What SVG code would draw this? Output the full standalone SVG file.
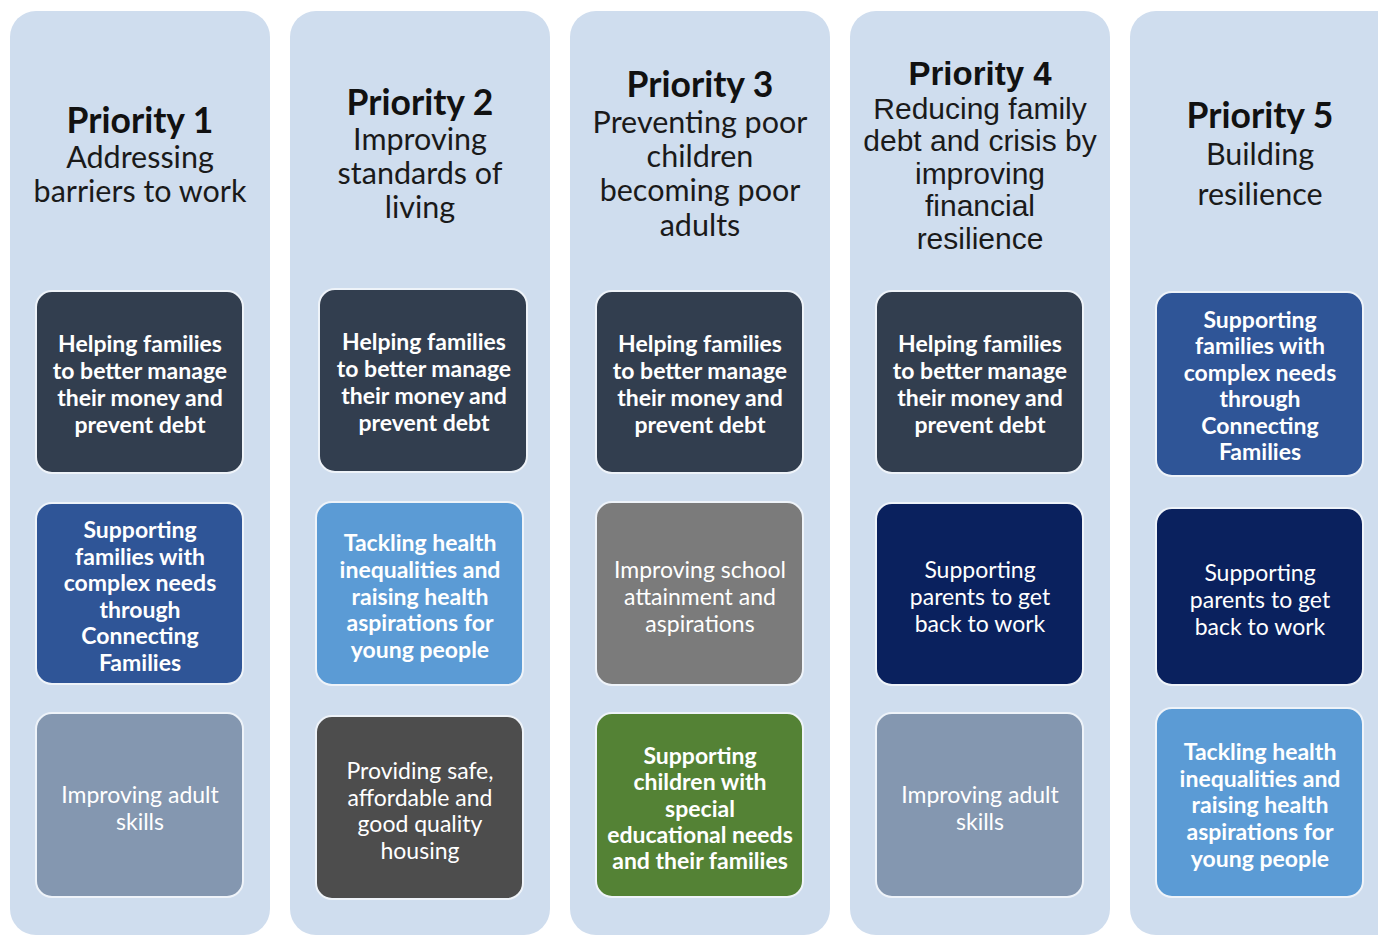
<svg xmlns="http://www.w3.org/2000/svg" width="1378" height="935" viewBox="0 0 1378 935">
<style>
.col{fill:#cfddee}
.box{stroke:#eef3f9;stroke-width:2}
.h{font-family:Lato,"Liberation Sans",sans-serif;font-weight:bold;font-size:35.5px;fill:#111;text-anchor:middle}
.s{font-family:Lato,"Liberation Sans",sans-serif;font-size:30.5px;fill:#1a1a1a;text-anchor:middle}
.h4{font-family:"Liberation Sans",Arial,sans-serif;font-weight:bold;font-size:33px;fill:#111;text-anchor:middle}
.s4{font-family:"Liberation Sans",Arial,sans-serif;font-size:30px;fill:#1a1a1a;text-anchor:middle}
.b{font-family:Lato,"Liberation Sans",sans-serif;font-weight:bold;font-size:23px;fill:#fff;text-anchor:middle}
.r{font-family:Lato,"Liberation Sans",sans-serif;font-size:23px;fill:#fff;text-anchor:middle}
.c1{fill:#323e4f}.c2{fill:#2f5597}.c3{fill:#8497b0}.c4{fill:#5b9bd5}.c5{fill:#4d4d4d}.c6{fill:#7b7b7b}.c7{fill:#548235}.c8{fill:#0a215e}
</style>
<rect width="1378" height="935" fill="#fff"/>
<g id="priority1">
<rect class="col" x="10" y="11" width="260" height="924" rx="26"/>
<text class="h" x="140" y="133">Priority 1</text>
<text class="s" x="140" y="168">Addressing</text>
<text class="s" x="140" y="202">barriers to work</text>
</g>
<g id="priority2">
<rect class="col" x="290" y="11" width="260" height="924" rx="26"/>
<text class="h" x="420" y="115">Priority 2</text>
<text class="s" x="420" y="150">Improving</text>
<text class="s" x="420" y="184">standards of</text>
<text class="s" x="420" y="218">living</text>
</g>
<g id="priority3">
<rect class="col" x="570" y="11" width="260" height="924" rx="26"/>
<text class="h" x="700" y="97">Priority 3</text>
<text class="s" x="700" y="133">Preventing poor</text>
<text class="s" x="700" y="167">children</text>
<text class="s" x="700" y="201">becoming poor</text>
<text class="s" x="700" y="236">adults</text>
</g>
<g id="priority4">
<rect class="col" x="850" y="11" width="260" height="924" rx="26"/>
<text class="h4" x="980" y="85">Priority 4</text>
<text class="s4" x="980" y="119">Reducing family</text>
<text class="s4" x="980" y="151">debt and crisis by</text>
<text class="s4" x="980" y="184">improving</text>
<text class="s4" x="980" y="216">financial</text>
<text class="s4" x="980" y="249">resilience</text>
</g>
<g id="priority5">
<rect class="col" x="1130" y="11" width="280" height="924" rx="26"/>
<text class="h" x="1260" y="128">Priority 5</text>
<text class="s" x="1260" y="165">Building</text>
<text class="s" x="1260" y="205">resilience</text>
</g>

<g id="p1-money">
<rect class="box c1" x="36" y="291" width="207" height="182" rx="16"/>
<text class="b" x="140" y="352">Helping families</text>
<text class="b" x="140" y="379">to better manage</text>
<text class="b" x="140" y="406">their money and</text>
<text class="b" x="140" y="433">prevent debt</text>
</g>
<g id="p1-complex">
<rect class="box c2" x="36" y="503" width="207" height="181" rx="16"/>
<text class="b" x="140" y="538">Supporting</text>
<text class="b" x="140" y="564.5">families with</text>
<text class="b" x="140" y="591">complex needs</text>
<text class="b" x="140" y="617.5">through</text>
<text class="b" x="140" y="644">Connecting</text>
<text class="b" x="140" y="670.5">Families</text>
</g>
<g id="p1-skills">
<rect class="box c3" x="36" y="713" width="207" height="184" rx="16"/>
<text class="r" x="140" y="803">Improving adult</text>
<text class="r" x="140" y="829.5">skills</text>
</g>

<g id="p2-money">
<rect class="box c1" x="319" y="289" width="208" height="183" rx="16"/>
<text class="b" x="424" y="350">Helping families</text>
<text class="b" x="424" y="377">to better manage</text>
<text class="b" x="424" y="404">their money and</text>
<text class="b" x="424" y="431">prevent debt</text>
</g>
<g id="p2-health">
<rect class="box c4" x="316" y="502" width="207" height="183" rx="16"/>
<text class="b" x="420" y="551">Tackling health</text>
<text class="b" x="420" y="577.8">inequalities and</text>
<text class="b" x="420" y="604.6">raising health</text>
<text class="b" x="420" y="631.4">aspirations for</text>
<text class="b" x="420" y="658.2">young people</text>
</g>
<g id="p2-housing">
<rect class="box c5" x="316" y="716" width="207" height="183" rx="16"/>
<text class="r" x="420" y="779">Providing safe,</text>
<text class="r" x="420" y="805.7">affordable and</text>
<text class="r" x="420" y="832.4">good quality</text>
<text class="r" x="420" y="859">housing</text>
</g>

<g id="p3-money">
<rect class="box c1" x="596" y="291" width="207" height="182" rx="16"/>
<text class="b" x="700" y="352">Helping families</text>
<text class="b" x="700" y="379">to better manage</text>
<text class="b" x="700" y="406">their money and</text>
<text class="b" x="700" y="433">prevent debt</text>
</g>
<g id="p3-school">
<rect class="box c6" x="596" y="502" width="207" height="183" rx="16"/>
<text class="r" x="700" y="578">Improving school</text>
<text class="r" x="700" y="605">attainment and</text>
<text class="r" x="700" y="632">aspirations</text>
</g>
<g id="p3-send">
<rect class="box c7" x="596" y="713" width="207" height="184" rx="16"/>
<text class="b" x="700" y="764">Supporting</text>
<text class="b" x="700" y="790.3">children  with</text>
<text class="b" x="700" y="816.6">special</text>
<text class="b" x="700" y="842.9">educational needs</text>
<text class="b" x="700" y="869.2">and their families</text>
</g>

<g id="p4-money">
<rect class="box c1" x="876" y="291" width="207" height="182" rx="16"/>
<text class="b" x="980" y="352">Helping families</text>
<text class="b" x="980" y="379">to better manage</text>
<text class="b" x="980" y="406">their money and</text>
<text class="b" x="980" y="433">prevent debt</text>
</g>
<g id="p4-parents">
<rect class="box c8" x="876" y="503" width="207" height="182" rx="16"/>
<text class="r" x="980" y="578">Supporting</text>
<text class="r" x="980" y="605">parents to get</text>
<text class="r" x="980" y="632">back to work</text>
</g>
<g id="p4-skills">
<rect class="box c3" x="876" y="713" width="207" height="184" rx="16"/>
<text class="r" x="980" y="803">Improving adult</text>
<text class="r" x="980" y="829.5">skills</text>
</g>

<g id="p5-complex">
<rect class="box c2" x="1156" y="292" width="207" height="184" rx="16"/>
<text class="b" x="1260" y="328">Supporting</text>
<text class="b" x="1260" y="354.4">families with</text>
<text class="b" x="1260" y="380.8">complex needs</text>
<text class="b" x="1260" y="407.2">through</text>
<text class="b" x="1260" y="433.6">Connecting</text>
<text class="b" x="1260" y="460">Families</text>
</g>
<g id="p5-parents">
<rect class="box c8" x="1156" y="508" width="207" height="177" rx="16"/>
<text class="r" x="1260" y="581">Supporting</text>
<text class="r" x="1260" y="608">parents to get</text>
<text class="r" x="1260" y="635">back to work</text>
</g>
<g id="p5-health">
<rect class="box c4" x="1156" y="708" width="207" height="189" rx="16"/>
<text class="b" x="1260" y="760">Tackling health</text>
<text class="b" x="1260" y="786.7">inequalities and</text>
<text class="b" x="1260" y="813.4">raising health</text>
<text class="b" x="1260" y="840.1">aspirations for</text>
<text class="b" x="1260" y="866.8">young people</text>
</g>
<g id="connectors"></g>
</svg>
